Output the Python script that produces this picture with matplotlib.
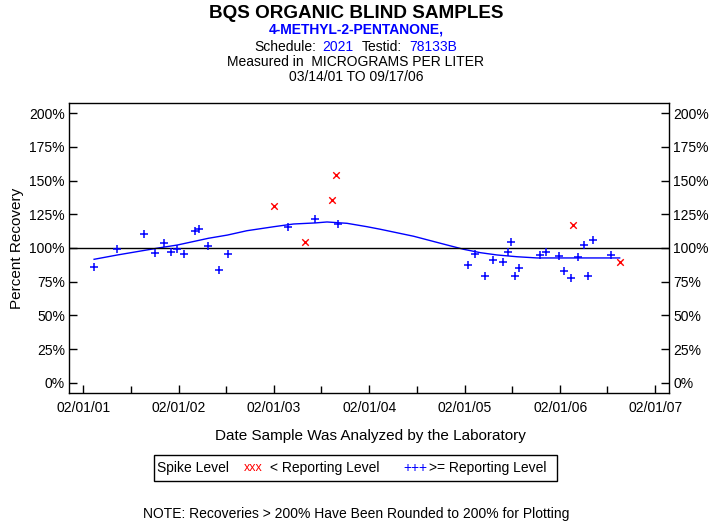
import matplotlib
matplotlib.use('Agg')
import matplotlib.pyplot as plt
import matplotlib.dates as mdates
from matplotlib.patches import Rectangle
import numpy as np
import pandas as pd

plt.rcParams['font.family'] = ['Liberation Sans', 'DejaVu Sans']

# --- samples >= reporting level (blue +) ---
ge_dates = ["2001-03-14", "2001-06-11", "2001-09-21", "2001-11-04", "2001-12-08",
            "2002-01-04", "2002-01-26", "2002-02-23", "2002-04-05", "2002-04-19",
            "2002-05-26", "2002-07-05", "2002-08-07", "2003-03-28", "2003-07-10",
            "2003-10-05", "2005-02-12", "2005-03-11", "2005-04-18", "2005-05-21",
            "2005-06-28", "2005-07-17", "2005-07-28", "2005-08-14", "2005-08-28",
            "2005-11-14", "2005-12-09", "2006-01-27", "2006-02-15", "2006-03-16",
            "2006-04-09", "2006-05-02", "2006-05-18", "2006-06-06", "2006-08-13"]
ge_pct = [85.7, 99.0, 110.2, 96.0, 104.0,
          96.8, 99.0, 95.3, 112.4, 113.9,
          101.2, 83.4, 95.3, 115.6, 121.5,
          117.6, 87.6, 95.3, 79.4, 91.1,
          89.4, 97.3, 104.2, 79.4, 85.4,
          94.8, 96.8, 93.8, 82.7, 78.0,
          93.1, 102.0, 79.4, 106.2, 95.0]

# --- samples < reporting level (red x) ---
lt_dates = ["2003-02-01", "2003-05-29", "2003-09-11", "2003-09-25", "2006-03-23", "2006-09-17"]
lt_pct = [131.0, 104.7, 135.9, 154.4, 116.9, 89.4]

# --- smoothed trend line ---
trend_dates = ["2001-03-14", "2001-06-11", "2001-11-22", "2002-01-27", "2002-05-26",
               "2002-08-07", "2002-10-20", "2003-02-01", "2003-04-17", "2003-07-10",
               "2003-08-23", "2003-11-08", "2004-01-23", "2004-03-14", "2004-07-20",
               "2004-11-25", "2005-01-28", "2005-04-02", "2005-06-05", "2005-08-20",
               "2005-11-05", "2006-09-17"]
trend_pct = [91.6, 94.8, 100.2, 102.2, 107.2,
             109.6, 112.8, 115.8, 117.8, 118.6,
             119.3, 118.3, 115.8, 113.9, 108.7,
             102.2, 99.0, 96.5, 94.8, 93.5,
             92.6, 92.6]

yticks = [0, 25, 50, 75, 100, 125, 150, 175, 200]
xtick_dates = ["2001-02-01", "2002-02-01", "2003-02-01", "2004-02-01",
               "2005-02-01", "2006-02-01", "2007-02-01"]
xminor_dates = ["2001-08-01", "2002-08-01", "2003-08-01", "2004-08-01",
                "2005-08-01", "2006-08-01"]

blue = "#0000ff"
red = "#ff0000"

fig = plt.figure(figsize=(7.13, 5.23), dpi=100)
ax = fig.add_axes([0.0968, 0.2486, 0.8415, 0.5545])

ax.plot(pd.to_datetime(trend_dates), trend_pct, color=blue, linewidth=1)
ax.axhline(100, color="black", linewidth=1)
ax.scatter(pd.to_datetime(ge_dates), ge_pct, marker="+", color=blue, s=36, linewidths=1.1, zorder=3)
ax.scatter(pd.to_datetime(lt_dates), lt_pct, marker="x", color=red, s=22, linewidths=1.0, zorder=3)

ax.set_xlim(pd.Timestamp("2000-12-08"), pd.Timestamp("2007-03-25"))
ax.set_ylim(-7.6, 207.6)

ax.set_yticks(yticks)
ax.set_yticklabels([f"{v}%" for v in yticks])
ax.set_xticks(pd.to_datetime(xtick_dates))
ax.set_xticks(pd.to_datetime(xminor_dates), minor=True)
ax.xaxis.set_major_formatter(mdates.DateFormatter("%m/%d/%y"))
ax.tick_params(axis="both", which="major", direction="in", length=6, width=1, labelsize=10, pad=3)
ax.tick_params(axis="x", which="major", pad=6)
ax.tick_params(axis="x", which="minor", direction="in", length=5, width=1)
ax.tick_params(axis="y", right=True, labelright=True)
for s in ax.spines.values():
    s.set_linewidth(1)

ax.set_ylabel("Percent Recovery", fontsize=11, labelpad=4)
fig.text(0.519, 0.166, "Date Sample Was Analyzed by the Laboratory", fontsize=11, ha="center", va="center")

# header
fig.text(0.499, 0.975, "BQS ORGANIC BLIND SAMPLES", fontsize=13.6, weight="bold", ha="center", va="center")
fig.text(0.499, 0.943, "4-METHYL-2-PENTANONE,", fontsize=10, weight="bold", color=blue, ha="center", va="center")
fig.text(254 / 713, 0.910, "Schedule:", fontsize=10, ha="left", va="center")
fig.text(322 / 713, 0.910, "2021", fontsize=10, color=blue, ha="left", va="center")
fig.text(362 / 713, 0.910, "Testid:", fontsize=10, ha="left", va="center")
fig.text(409 / 713, 0.910, "78133B", fontsize=10, color=blue, ha="left", va="center")
fig.text(0.499, 0.881, "Measured in  MICROGRAMS PER LITER", fontsize=10, ha="center", va="center")
fig.text(0.499, 0.853, "03/14/01 TO 09/17/06", fontsize=10, ha="center", va="center")

# legend box
fig.patches.append(Rectangle((154 / 713, 1 - 481 / 523), 403 / 713, 26 / 523,
                             transform=fig.transFigure, fill=False, edgecolor="black", linewidth=1))
ly = 1 - 468 / 523
fig.text(157 / 713, ly, "Spike Level", fontsize=10, ha="left", va="center")
fig.text(244 / 713, ly, "xxx", fontsize=9, color=red, ha="left", va="center")
fig.text(270 / 713, ly, "< Reporting Level", fontsize=10, ha="left", va="center")
fig.text(403 / 713, ly, "+++", fontsize=10, color=blue, ha="left", va="center")
fig.text(429 / 713, ly, ">= Reporting Level", fontsize=10, ha="left", va="center")

fig.text(0.499, 0.017, "NOTE: Recoveries > 200% Have Been Rounded to 200% for Plotting",
         fontsize=10, ha="center", va="center")

fig.savefig("out.png", dpi=100)
